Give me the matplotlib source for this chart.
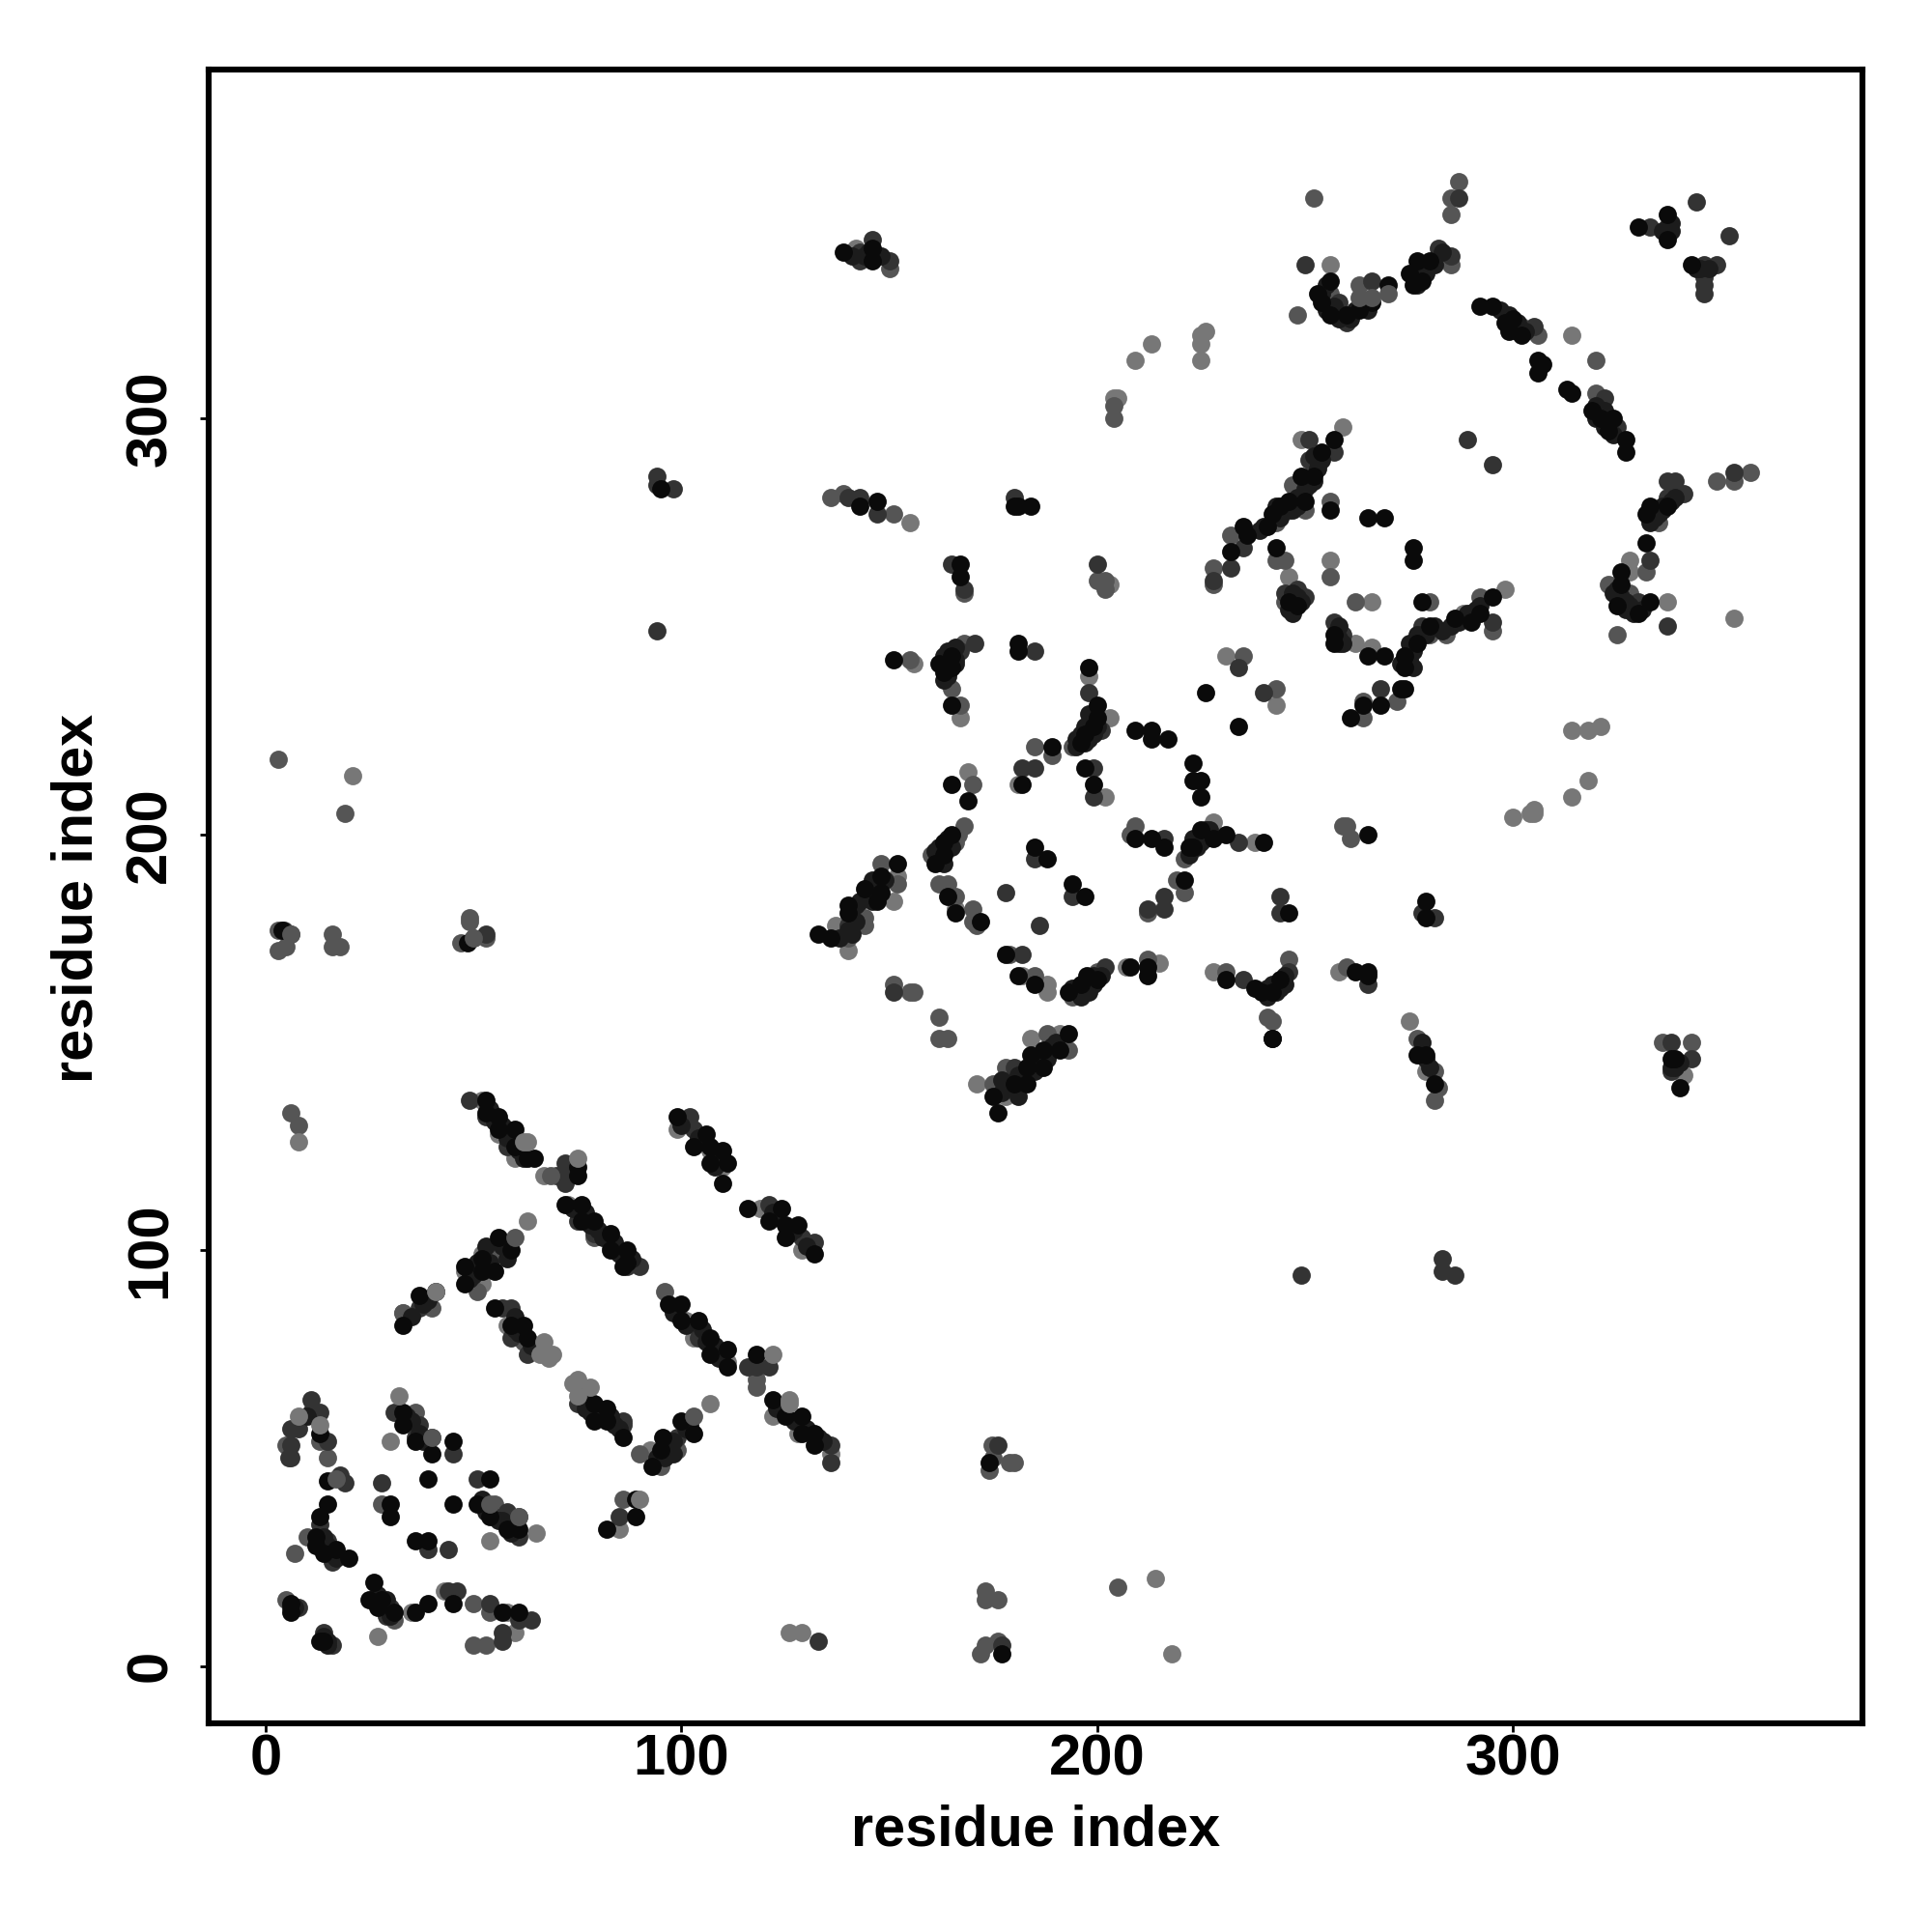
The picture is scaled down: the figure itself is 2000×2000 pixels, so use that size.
import matplotlib
matplotlib.use("Agg")
import matplotlib.pyplot as plt

x_label = "residue index"
y_label = "residue index"
tick_values = [0, 100, 200, 300]

# contacts as (residue, residue), by grey level
light_contacts = [
 (21,214),(52,136),(58,129),(56,128),(60,122),(72.7,111),(83,101),(101,83),(103,79),(111,73),(99,129),(107,124),(110,120),
 (119,110),(129,100),(122,60),(128,56),(136,51),(48,95),(52,92),(52,99),(33,85),(58,82),(30,54),(54,30),(65,32),(27,7),
 (35,13),(43,18),(58,13),(60,8),(16,26),(92.5,52),(85,33),(126,8),(129,8),(214,21),(218,3),(178,137),(171,140),(184,151),
 (191,152),(182,166),(188,164),(188,162),(207,168),(215,169),(228,167),(137,178),(140,172),(146,187),(151,184),(152,190),
 (166,182),(156,241),(167,228),(198,238),(203,228),(181,212),(202,209),(228,203),(238,198),(169,215),(231,243),(243,231),
 (259,298),(249,295),(256,266),(246,262),(262,246),(266,245),(266,256),(288,253),(298,259),(314,225),(318,225),(321,226),
 (318,213),(314,209),(300,204),(304,205),(305,206),(305,205),(328,266),(328,263),(337,256),(353,252),(256,337),(314,320),
 (142,341),(213,318),(209,314),(226,321),(225,320),(225,318),(225,314),(205,305),(204,305),(155,275),(203,260),(275,155),
 (279,143),(340,143),(341,142),(258,167),
]
mid_contacts = [
 (3,218),(19,205),(6,133),(8,130),(3,177),(6,176),(5,173),(3,172),(16,176),(16,173),(18,173),(49,180),(49,179),(47,174),
 (50,175),(53,175),(79,103),(118,69),(118,67),(96,90),(99,52),(95,48),(90,51),(86,40),(56,99),(51,90),(40,86),(33,85),
 (62,78),(13,54),(15,50),(5,53),(28,39),(7,27),(10,31),(5,16),(27,16),(31,11),(50,15),(54,13),(50,5),(53,5),(36,61),
 (40,55),(55,39),(61,36),(173,18),(173,16),(176,16),(172,3),(173,5),(176,6),(205,19),(174.6,53),(175,50),(174,47),(179,49),
 (180,49),(277,151),(281,143),(282,139),(281,136),(242,155),(336,150),(343,150),(175,140),(178,144),(188,152),(193,148),
 (162,156),(162,151),(164,151),(151,164),(156,162),(155,162),(179,171),(185,166),(194,161),(196,162),(200,167),(212,170),
 (231,167),(246,170),(241,156),(140,175),(144,178),(144,180),(148,193),(152,188),(160,195),(166,198),(166.5,200),(168,202),
 (162,188),(164,188),(166,185),(170,182),(170,179),(171,178),(155,242),(168,246),(165,235),(167,231),(194,221),(185,221),
 (189,219),(209,202),(208,200),(221,194),(219,189),(221,186),(212,181),(170,212),(235,243),(243,235),(252,289),(247,284),
 (256,280),(250,278),(243,275),(232,272),(228,264),(228,260),(245,266),(243,266),(256,262),(245,256),(262,256),(280,256),
 (280,248),(284,248),(292,257),(295,249),(272,232),(264,232),(264,228),(335,275),(332,263),(323,260),(328,258),(325,248),
 (349,285),(252,353),(287,357),(285,353),(285,349),(248,325),(256,330),(263,332),(285,337),(302,322),(306,320),(320,314),
 (320,306),(150,336),(204,303),(204,300),(136,281),(139,282),(143,280),(151,277),(168,258),(200,261),(202,261),(202,259),
 (353,285),(357,287),(260,168),(259,202),(260,202),(261,199),
]
dark_contacts = [
 (4.5,177),(53,176),(49,136),(53,132),(58,125),(70,118),(72,121),(72,116),(72,118),(75,107),(79,104),(87,96),(90,96),
 (102,132),(103,129),(121,111),(129,103),(132,102),(104,79),(116,72),(121,72),(118,72),(86,59),(86,58),(136,53),(136,49),
 (99,55),(85,36),(37,86),(59,86),(57,86),(59,79),(63,75),(75,63),(11,64),(13,61),(11,61),(6,57),(8,57),(6,53),(15,54),
 (5.5,50),(6,50),(19,44),(18,46),(13,34),(13,30),(15,30),(16,25),(31,61),(37,58),(36,55),(45,51),(28,44),(39,28),(44,28),
 (51,45),(55,36),(58,37),(61,31),(8,14),(14,8),(16,5),(30,14),(29,12),(44,18),(46,18),(54,15),(61,11),(64,11),(57,8),(57,6),
 (133,6),(177,5),(176,53),(249,94),(283,98),(283,95),(286,94),(338,150),(343,146),(338,143),(180,144),(151,162),(182,171),
 (202,168),(235,165),(244,185),(244,181),(246,167),(140,178),(185,244),(170.5,246),(167,244),(198,234),(201,225),(185,216),
 (182,216),(199,216),(199,209),(216,199),(234,198),(216,185),(216,182),(212,182),(178,186),(186,178),(185,194),(194,185),
 (234,240),(240,234),(251,295),(257,292),(251,290),(235,269),(232,264),(228,261),(245,258),(248,259),(250,257),(257,251),
 (259,248),(278,250),(295,251),(268,235),(337,285),(339,285),(341,282),(337,281),(333,266),(330,256),(337,250),(289,295),
 (295,289),(287,353),(250,337),(258,328),(260,323),(266,333),(282,341),(285,339),(298,325),(305,322),(325,298),(333,346),
 (337,346),(344,352),(352,344),(346,337),(349,337),(346,334),(346,332),(346,330),(353,287),(143,340),(143,338),(146,343),
 (150,338),(94,286),(94,284),(98,283),(140,281),(143,281),(147,277),(180,281),(165,265),(168,259),(200,265),(94,249),
 (281,180),(278,181),(265,164),(322,305),
]
# contacts mostly hidden inside the dense strands
hidden_contacts = [
 (54,134),(55,131),(57,130),(58,127),(59,127),(61,124),(62,122),(74,110),(77,109),(78,106),(80,105),(81,103),(84,102),(85,99),(88,98),
 (100,130),(104,127),(105,126),(108,123),(109,122),(108,120),(122,109),(123,108),(126,104),(127,105),(130,101),
 (98,85),(101,82),(105,81),(106,78),(108,77),(109,74),(110,75),(123,62),(124,62),(127,59),(130,57),(133,55),(134,54),
 (53,101),(54,97),(57,101),(58,98),(50,94),(49,93),(51,97),(39,88),(38,87),(35,84),(60,84),(61,80),(64,77),(60,81),
 (77,62),(78,61),(80,60),(83,60),(84,58),(85,57),(77,65),(96,53),(97,52),(98,54),(101,57),(94,50),(96,50),(98,51),(102,58),
 (6,14),(7,14),(14,7),(15,5),(15,6),(27,17),(28,15),(29,14),(29,16),(30,12),(30,13),(13,29),(15,27),(15,29),(16,28),(17,26),(14,31),
 (34,60),(35,59),(37,56),(38,54),(52,40),(56,35),(59,32),(60,34),(57,35),(53,37),(10,60),
 (141,339),(144,339),(145,340),(147,339),(148,339),
 (177,138),(179,139),(181,142),(182,142),(184,143),(185,143),(186,146),(188,146),(189,149),(190,150),(181,137),(177,141),(178,140),
 (162,195),(162,197),(164,197),(164,199),(161,196),(163,193),(162,194),(165,197),
 (142,183),(143,184),(145,186),(146,184),(147,188),(149,189),(146,189),(138,175),(140,177),(141,176),(142,179),
 (195,163),(196,161),(197,163),(198,162),(198,165),(199,164),(199,166),(201,166),(194,163),
 (163,243),(164,241),(164,239),(166,242),(166,245),(163,237),(164,244),(166,241),(164,238),
 (198,229),(197,226),(198,223),(196,224),(195,223),(199,224),(198,225),(200,226),(197,222),(195,221),
 (224,199),(224,197),(226,199),(226,201),(222,195),(223,199),(225,198),(227,201),
 (240,162),(241,163),(241,161),(243,162),(243,164),(244,163),(245,166),(245,164),(242,164),
 (249,281),(251,284),(250,283),(252,285),(253,288),(253,290),(252,291),(254,290),(247,278),(248,281),(245,278),(244,276),(243,279),(240,274),(246,278),(248,279),(239,273),
 (247,253),(248,257),(246,254),(247,258),(249,256),(258,250),(258,247),(258,246),(259,246),
 (275,242),(276,244),(277,248),(278,248),(276,240),(279,248),(275,246),(273,241),(281,250),(283,249),(285,250),(287,251),(288,252),(289,253),(290,253),(291,254),(292,255),
 (335,277),(336,278),(334,276),(338,280),(339,281),(334,277),(333,275),(336,279),
 (326,257),(327,256),(324,258),(327,254),(328,255),(329,253),(325,259),(331,254),
 (254,330),(255,326),(257,327),(258,324),(259,325),(261,324),(262,326),(264,327),(265,326),(255,332),(278,336),(279,335),(276,334),(279,337),(277,332),(281,337),(283,340),
 (299,325),(301,323),(300,322),(303,321),(297,326),(301,321),(322,302),(320,300),(322,298),(324,296),(320,303),(321,302),
 (337,344),(338,345),(336,345),(338,347),(344,336),(345,336),(347,336),(339,144),(340,145),(338,144),(278,150),(279,146),(280,144),
]
black_contacts = [
 (4,177),(48.5,174),(53,133),(53,136),(56,132),(56,129),(60,129),(60,125),(63,122),(64.6,122),(75,118),(75,120),(72,111),
 (76,111),(76,107),(79,107),(83,104),(83,100),(87,100),(86,96),(87,97),(99,132),(106,128),(103,125),(107,125),(110,124),
 (107,121),(111,121),(110,116),(116,110),(124,110),(121,107),(125,106),(128,106),(125,103),(132,99),(97,87),(100,87),(100,83),
 (104,83),(107,79),(107,75),(111,76),(111,72),(118,75),(122,64),(125,60),(129,60),(129,56),(132,56),(132,53),(100,59),(103,56),
 (95.5,55),(95,52),(93,48),(89,40),(89,36),(82,33),(56,103),(59,100),(52,98),(55,95),(52,95),(48,96),(48,92),(41,90),(37,89),
 (33,82),(55,86),(62,82),(59,82),(63,79),(79,63),(82,62),(79,59),(82,59),(86,55),(13,56),(15,44.6),(15,39),(13,36),(12,31),
 (12,29),(14,27),(17,28),(20,26),(33,61),(33,58),(36,54),(45,54),(40,51),(39,45),(30,39),(30,36),(45,39),(36,30),(39,30),(54,45),
 (51,39),(54,36),(58,33),(61,33),(6,15),(6,13),(13,6),(14,6),(26,20),(25,16),(28,16),(27,14),(31,13),(36,13),(39,15),(45,15),
 (57,13),(61,13),(177,3),(174,49),(277,147),(279,147),(281,140),(242,151),(338,146),(339,146),(340,139),(176,133),(175,137),
 (180,140),(183,140),(183,144),(187,144),(187,148),(184,147),(193,152),(191,148),(178,171),(181,166),(185,164),(193,162),(196,164),
 (197.5,166),(200,165),(208,168),(212,166),(212,168),(231,165),(238,163),(239.5,162),(242,162),(244,165),(242,151),(246,181),
 (133,176),(136,175),(140,181),(140,183),(144,187),(148,186),(147,184),(148,190),(152,193),(161,193),(163,195),(163,198),(165,200),
 (164,185),(166,181),(172,179),(185,197),(188,194),(194,188),(197,185),(151,242),(162,241),(163,239),(165,243),(165,240),(165,231),
 (181,246),(181,244),(198,240),(200,231),(200,228),(199,226),(197,224),(196,222),(189,221),(182,212),(197,216),(199,212),(209,225),
 (213,225),(213,223),(217,223),(223,217),(223,213),(225,213),(225,209),(209,199),(213,199),(216,197),(225,201),(223,197),(222,197),
 (228,199),(231,200),(240,198),(221,189),(165,212),(169,208),(226,234),(234,226),(257,295),(254,292),(252,286),(249,286),(250,280),
 (246,280),(256,278),(244,279),(242,277),(241,274),(235,274),(236,272),(232,268),(243,269),(246,256),(248,255),(265,276),(269,276),
 (276,269),(276,266),(278,256),(257,248),(257,246),(265,243),(269,243),(280,250),(277,246),(274,243),(274,240),(286,252),(295,257),
 (292,253),(290,251),(273,235),(274,235),(268,231),(264,231),(261,228),(337,279),(333,279),(332,277),(332,270),(326,263),(326,260),
 (333,256),(325,255),(330,253),(256,333),(253,330),(254,328),(256,325),(260,325),(263,326),(266,328),(270,332),(276,332),(275,335),
 (278,333),(277,338),(280,338),(292,327),(295,327),(300,324),(298,323),(299,321),(302,320),(306,314),(307,313),(306,311),(313,307),
 (314,306),(319,302),(321,300),(324,300),(323,297),(327,295),(327,292),(330,346),(337,349),(337,343),(343,337),(139,340),(146,341),
 (146,338),(95,283),(143,279),(147,280),(180,279),(181,279),(184,279),(167,265),(167,262),(279,184),(279,180),(262,167),(265,166),
 (265,167),(265,200),
]
# lighter contacts that lie above darker neighbours
upper_contacts = [
 (63,126),(62,126),(75,122),(67,78),(69,75),(68,74),(66,75),(75,69),(74,68),(78,67),(75,65),(122,75),(126,64),(126,63),(107,63),
 (63,107),(41,90),(90,40),(8,60),(13,58),(32,65),(67,118),(8,126),
]
upper_mid_contacts = [
 (60,103),(68.5,118),(103,60),(6,176),(50,175),(17,45),(54,39),(61,36),(40,55),
 (263,329),(266,329),(270,330),
]

plt.rcParams["font.family"] = ["Liberation Sans", "DejaVu Sans"]
plt.rcParams["font.weight"] = "bold"

fig = plt.figure(figsize=(10, 10), dpi=200, facecolor="white")
ax = fig.add_axes([216.3 / 2000, 216 / 2000, 1711.7 / 2000, 1712 / 2000])

layers = [
    (light_contacts, "#777777"),
    (mid_contacts, "#555555"),
    (dark_contacts, "#333333"),
    (hidden_contacts, "#1c1c1c"),
    (black_contacts, "#0a0a0a"),
    (upper_contacts, "#777777"),
    (upper_mid_contacts, "#555555"),
]
for points, colour in layers:
    xs, ys = zip(*points)
    ax.scatter(xs, ys, s=46, c=colour, linewidths=0, zorder=2)

ax.set_xlim(-13.6, 384)
ax.set_ylim(-13.8, 383.9)
ax.set_xticks(tick_values)
ax.set_yticks(tick_values)
ax.tick_params(axis="x", length=3.2, width=1, labelsize=21.5, pad=0.5)
ax.tick_params(axis="y", length=3.2, width=1, labelsize=21.5, pad=8.5)
for label in ax.get_yticklabels():
    label.set_rotation(90)
    label.set_va("center")
for spine in ax.spines.values():
    spine.set_linewidth(2.2)

fig.text(1072 / 2000, 1 - 1895 / 2000, x_label, fontsize=21.4, fontweight="bold", ha="center", va="center")
fig.text(80 / 2000, 1 - 930 / 2000, y_label, fontsize=21.4, fontweight="bold", ha="center", va="center", rotation=90)

fig.savefig("out.png", dpi=200, facecolor="white")
